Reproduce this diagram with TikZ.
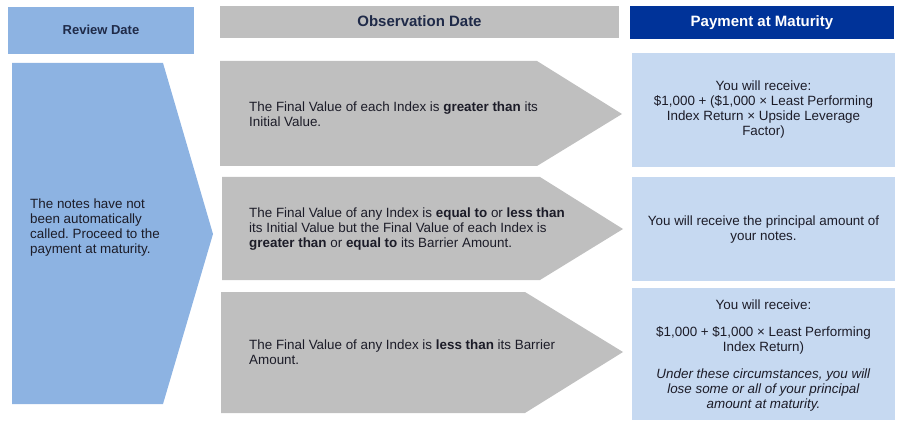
\documentclass[tikz,border=0pt]{standalone}
\usepackage{fontspec}
\setmainfont{Liberation Sans}
\usepackage{xcolor}
\usetikzlibrary{positioning}

\definecolor{reviewblue}{HTML}{8DB3E2}
\definecolor{obsgrey}{HTML}{BFBFBF}
\definecolor{paylight}{HTML}{C6D9F1}
\definecolor{paydark}{HTML}{003399}
\definecolor{bodyink}{HTML}{1C1C28}
\definecolor{headink}{HTML}{1F2A48}

\frenchspacing

\begin{document}
\begin{tikzpicture}[
    x=1pt, y=-1pt,
    every node/.style={inner sep=0pt, text=bodyink, font=\fontsize{13.4}{15}\selectfont},
    header/.style={font=\fontsize{15}{17}\selectfont\bfseries, text=headink},
    celltext/.style={align=left, anchor=west},
    paytext/.style={align=center}
]
\useasboundingbox (0,0) rectangle (903,425);

% header row
\fill[reviewblue] (8,7) rectangle (194,54);
\fill[obsgrey] (220,6) rectangle (619,38);
\fill[paydark] (630,6) rectangle (894,39);
\node[header, font=\fontsize{13}{15}\selectfont\bfseries] (review) at (101,30) {Review Date};
\node[header] (observation) at (419.5,21) {Observation Date};
\node[header, text=white] (payment) at (762,23) {Payment at Maturity};

% review date arrow
\fill[reviewblue] (12,63) -- (163,63) -- (213,234) -- (163,404) -- (12,404) -- cycle;
\node[celltext] (called) at (30,228) {The notes have not\\been automatically\\called. Proceed to the\\payment at maturity.};

% observation date arrows
\fill[obsgrey] (220,61) -- (537,61) -- (622,114) -- (537,166) -- (220,166) -- cycle;
\fill[obsgrey] (222,177) -- (540,177) -- (623,229) -- (540,280) -- (222,280) -- cycle;
\fill[obsgrey] (221,292) -- (525,292) -- (623,352) -- (525,413) -- (221,413) -- cycle;

\node[celltext] (above) at (249,114) {The Final Value of each Index is \textbf{greater than} its\\Initial Value.};
\node[celltext] (between) at (249,229) {The Final Value of any Index is \textbf{equal to} or \textbf{less than}\\its Initial Value but the Final Value of each Index is\\\textbf{greater than} or \textbf{equal to} its Barrier Amount.};
\node[celltext] (below) at (249,352.5) {The Final Value of any Index is \textbf{less than} its Barrier\\Amount.};

% payment at maturity
\fill[paylight] (632,53) rectangle (895,167);
\fill[paylight] (632,177) rectangle (895,281);
\fill[paylight] (632,288) rectangle (895,420);

\node[paytext] (upside) at (763.5,110) {You will receive:\\\$1,000 + (\$1,000 × Least Performing\\Index Return × Upside Leverage\\Factor)};
\node[paytext] (principal) at (763.5,230) {You will receive the principal amount of\\your notes.};
\node[paytext] (loss) at (763.5,355.5) {You will receive:\\[12pt]\$1,000 + \$1,000 × Least Performing\\Index Return)\\[12pt]\textit{Under these circumstances, you will}\\\textit{lose some or all of your principal}\\\textit{amount at maturity.}};

\end{tikzpicture}
\end{document}
